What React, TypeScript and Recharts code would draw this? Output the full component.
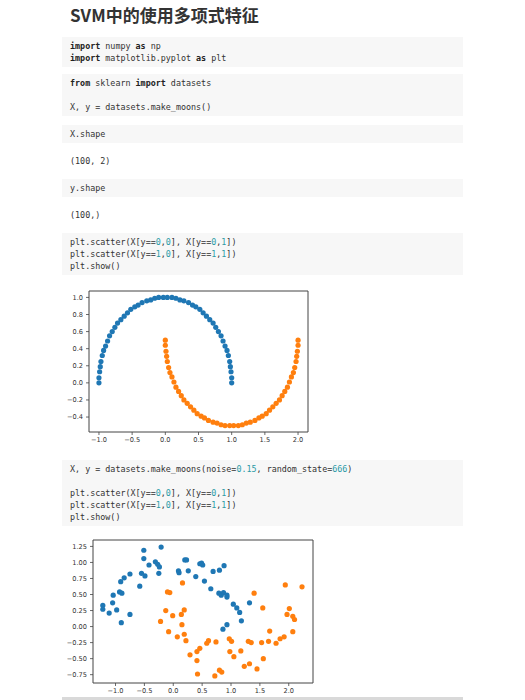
import React from 'react';
import { ScatterChart, Scatter, XAxis, YAxis, ReferenceArea } from 'recharts';

// ---- Chart 1: make_moons() (no noise) ----
const moon0X = [1.00, 1.00, 0.99, 0.98, 0.97, 0.95, 0.93, 0.90, 0.87, 0.84, 0.80, 0.76, 0.72, 0.67, 0.62, 0.57, 0.52, 0.46, 0.41, 0.35, 0.28, 0.22, 0.16, 0.10, 0.03, -0.03, -0.10, -0.16, -0.22, -0.28, -0.35, -0.41, -0.46, -0.52, -0.57, -0.62, -0.67, -0.72, -0.76, -0.80, -0.84, -0.87, -0.90, -0.93, -0.95, -0.97, -0.98, -0.99, -1.00, -1.00];
const moon0Y = [0.00, 0.06, 0.13, 0.19, 0.25, 0.32, 0.38, 0.43, 0.49, 0.55, 0.60, 0.65, 0.70, 0.74, 0.78, 0.82, 0.86, 0.89, 0.91, 0.94, 0.96, 0.97, 0.99, 1.00, 1.00, 1.00, 1.00, 0.99, 0.97, 0.96, 0.94, 0.91, 0.89, 0.86, 0.82, 0.78, 0.74, 0.70, 0.65, 0.60, 0.55, 0.49, 0.43, 0.38, 0.32, 0.25, 0.19, 0.13, 0.06, 0.00];
const moon1X = [0.00, 0.00, 0.01, 0.02, 0.03, 0.05, 0.07, 0.10, 0.13, 0.16, 0.20, 0.24, 0.28, 0.33, 0.38, 0.43, 0.48, 0.54, 0.59, 0.65, 0.72, 0.78, 0.84, 0.90, 0.97, 1.03, 1.10, 1.16, 1.22, 1.28, 1.35, 1.41, 1.46, 1.52, 1.57, 1.62, 1.67, 1.72, 1.76, 1.80, 1.84, 1.87, 1.90, 1.93, 1.95, 1.97, 1.98, 1.99, 2.00, 2.00];
const moon1Y = [0.50, 0.44, 0.37, 0.31, 0.25, 0.18, 0.12, 0.07, 0.01, -0.05, -0.10, -0.15, -0.20, -0.24, -0.28, -0.32, -0.36, -0.39, -0.41, -0.44, -0.46, -0.47, -0.49, -0.50, -0.50, -0.50, -0.50, -0.49, -0.47, -0.46, -0.44, -0.41, -0.39, -0.36, -0.32, -0.28, -0.24, -0.20, -0.15, -0.10, -0.05, 0.01, 0.07, 0.12, 0.18, 0.25, 0.31, 0.37, 0.44, 0.50];

// ---- Chart 2: make_moons(noise=0.15, random_state=666) ----
const noisy0X = [-1.22, -1.22, -1.11, -1.05, -1.04, -0.98, -0.93, -0.89, -0.90, -0.91, -0.85, -0.75, -0.75, -0.58, -0.55, -0.49, -0.51, -0.51, -0.42, -0.31, -0.27, -0.24, -0.25, -0.21, 0.09, 0.10, 0.20, 0.23, 0.26, 0.39, 0.46, 0.49, 0.51, 0.54, 0.65, 0.69, 0.80, 0.88, 0.79, 0.83, 0.87, 0.93, 0.93, 1.04, 1.10, 1.15, 1.18, 1.32, 0.93, 0.86];
const noisy0Y = [0.33, 0.27, 0.21, 0.37, 0.49, 0.26, 0.54, 0.52, 0.06, 0.70, 0.76, 0.82, 0.19, 0.63, 0.83, 0.79, 1.19, 1.06, 0.96, 1.01, 0.97, 0.93, 0.83, 1.24, 0.87, 0.84, 1.04, 1.04, 0.87, 0.78, 0.98, 0.99, 0.96, 0.71, 0.59, 0.86, 0.88, 0.95, 0.52, 0.49, 0.53, 0.46, 0.49, 0.35, 0.29, 0.22, 0.09, 0.37, 0.03, -0.04];
const noisy1X = [-0.22, -0.13, -0.08, -0.10, -0.06, -0.01, 0.07, 0.16, 0.14, 0.19, 0.15, 0.19, 0.22, 0.29, 0.41, 0.46, 0.41, 0.42, 0.58, 0.61, 0.74, 0.72, 0.80, 0.84, 0.97, 1.01, 0.98, 1.05, 1.17, 1.23, 1.30, 1.35, 1.32, 1.40, 1.45, 1.53, 1.55, 1.56, 1.65, 1.67, 1.78, 1.85, 1.92, 1.94, 1.97, 2.01, 2.07, 2.10, 2.07, 2.23];
const noisy1Y = [0.08, 0.25, -0.08, 0.54, 0.53, 0.17, -0.16, 0.68, 0.19, 0.26, 0.03, -0.12, -0.22, -0.44, -0.39, -0.34, -0.53, -0.74, -0.26, -0.22, -0.24, -0.77, -0.68, -0.71, -0.19, -0.23, -0.39, -0.47, -0.38, -0.62, -0.23, -0.25, -0.58, 0.52, -0.66, -0.25, 0.29, -0.50, -0.23, -0.07, -0.26, -0.19, -0.16, 0.65, 0.19, 0.28, 0.16, 0.11, -0.08, 0.62];

// ---- Ticks ----
const chart1XTicks = [-1.0, -0.5, 0.0, 0.5, 1.0, 1.5, 2.0];
const chart1YTicks = [-0.4, -0.2, 0.0, 0.2, 0.4, 0.6, 0.8, 1.0];
const chart2XTicks = [-1.0, -0.5, 0.0, 0.5, 1.0, 1.5, 2.0];
const chart2YTicks = [-0.75, -0.5, -0.25, 0.0, 0.25, 0.5, 0.75, 1.0, 1.25];

// ---- Texts ----
const titleText = 'SVM中的使用多项式特征';
const codeBlock1 = ['import numpy as np', 'import matplotlib.pyplot as plt'];
const codeBlock2 = ['from sklearn import datasets', '', 'X, y = datasets.make_moons()'];
const codeBlock3 = ['X.shape'];
const output3 = '(100, 2)';
const codeBlock4 = ['y.shape'];
const output4 = '(100,)';
const codeBlock5 = ['plt.scatter(X[y==0,0], X[y==0,1])', 'plt.scatter(X[y==1,0], X[y==1,1])', 'plt.show()'];
const codeBlock6 = ['X, y = datasets.make_moons(noise=0.15, random_state=666)', '', 'plt.scatter(X[y==0,0], X[y==0,1])', 'plt.scatter(X[y==1,0], X[y==1,1])', 'plt.show()'];

const BLUE = '#1f77b4';
const ORANGE = '#ff7f0e';
const AXIS = '#444';
const MONO = '"DejaVu Sans Mono", "Liberation Mono", monospace';
const LINE_H = 12;

const zip = (xs: number[], ys: number[]) => xs.map((x, i) => ({ x, y: ys[i] }));

const fmt = (d: number) => (v: number) => {
  const s = Math.abs(v).toFixed(d);
  return (v < -1e-9 ? '\u2212' : '') + s;
};

const dot = (color: string) => (props: any) => (
  <circle cx={props.cx} cy={props.cy} r={2.6} fill={color} />
);

function CodeLine({ text }: { text: string }) {
  const parts = text.split(/(\b(?:import|from|as)\b|\b\d+(?:\.\d+)?\b)/);
  return (
    <div style={{ height: LINE_H, lineHeight: LINE_H + 'px', whiteSpace: 'pre' }}>
      {parts.map((p, i) => {
        if (/^(import|from|as)$/.test(p)) return <span key={i} style={{ fontWeight: 'bold', color: '#222' }}>{p}</span>;
        if (/^\d+(\.\d+)?$/.test(p)) return <span key={i} style={{ color: '#2a9aa6' }}>{p}</span>;
        return <span key={i}>{p}</span>;
      })}
      {text === '' ? ' ' : null}
    </div>
  );
}

function CodeBlock({ top, lines }: { top: number; lines: string[] }) {
  return (
    <div
      style={{
        position: 'absolute',
        left: 62,
        top,
        width: 401,
        height: lines.length * LINE_H + 6,
        background: '#f7f7f7',
        boxSizing: 'border-box',
        padding: '3px 0 3px 8px',
        fontFamily: MONO,
        fontSize: 8.4,
        color: '#333',
      }}
    >
      {lines.map((l, i) => (
        <CodeLine key={i} text={l} />
      ))}
    </div>
  );
}

function OutputLine({ center, text }: { center: number; text: string }) {
  return (
    <div
      style={{
        position: 'absolute',
        left: 70,
        top: center - LINE_H / 2,
        height: LINE_H,
        lineHeight: LINE_H + 'px',
        fontFamily: MONO,
        fontSize: 8.4,
        color: '#333',
        whiteSpace: 'pre',
      }}
    >
      {text}
    </div>
  );
}

const tickStyle = { fontSize: 6.6, fill: '#333', fontFamily: '"DejaVu Sans", sans-serif' };

function MoonChart(props: {
  left: number;
  top: number;
  width: number;
  height: number;
  yAxisWidth: number;
  xAxisHeight: number;
  marginTop: number;
  marginRight: number;
  xDomain: [number, number];
  yDomain: [number, number];
  xTicks: number[];
  yTicks: number[];
  yDigits: number;
  data0: { x: number; y: number }[];
  data1: { x: number; y: number }[];
}) {
  const p = props;
  return (
    <div style={{ position: 'absolute', left: p.left, top: p.top, width: p.width, height: p.height }}>
      <ScatterChart
        width={p.width}
        height={p.height}
        margin={{ top: p.marginTop, right: p.marginRight, left: 0, bottom: 0 }}
      >
        <XAxis
          type="number"
          dataKey="x"
          domain={p.xDomain}
          ticks={p.xTicks}
          allowDataOverflow
          height={p.xAxisHeight}
          tickSize={3}
          tickMargin={2}
          axisLine={false}
          tickLine={{ stroke: AXIS, strokeWidth: 0.8 }}
          tick={tickStyle}
          tickFormatter={fmt(1)}
          interval={0}
        />
        <YAxis
          type="number"
          dataKey="y"
          domain={p.yDomain}
          ticks={p.yTicks}
          allowDataOverflow
          width={p.yAxisWidth}
          tickSize={3}
          tickMargin={3}
          axisLine={false}
          tickLine={{ stroke: AXIS, strokeWidth: 0.8 }}
          tick={tickStyle}
          tickFormatter={fmt(p.yDigits)}
          interval={0}
        />
        <Scatter data={p.data0} fill={BLUE} shape={dot(BLUE)} isAnimationActive={false} />
        <Scatter data={p.data1} fill={ORANGE} shape={dot(ORANGE)} isAnimationActive={false} />
        <ReferenceArea
          x1={p.xDomain[0]}
          x2={p.xDomain[1]}
          y1={p.yDomain[0]}
          y2={p.yDomain[1]}
          fill="none"
          fillOpacity={0}
          stroke={AXIS}
          strokeWidth={1}
          ifOverflow="visible"
        />
      </ScatterChart>
    </div>
  );
}

export default function App() {
  return (
    <div
      style={{
        position: 'absolute',
        left: 0,
        top: 0,
        width: 525,
        height: 700,
        background: '#fff',
        overflow: 'hidden',
      }}
    >
      <div
        style={{
          position: 'absolute',
          left: 70,
          top: 3,
          height: 24,
          lineHeight: '24px',
          fontSize: 17,
          fontWeight: 'bold',
          color: '#333',
          fontFamily: '"Noto Sans CJK SC", "Noto Sans", sans-serif',
          whiteSpace: 'nowrap',
        }}
      >
        {titleText}
      </div>

      <CodeBlock top={37} lines={codeBlock1} />
      <CodeBlock top={74} lines={codeBlock2} />
      <CodeBlock top={125} lines={codeBlock3} />
      <OutputLine center={161} text={output3} />
      <CodeBlock top={179} lines={codeBlock4} />
      <OutputLine center={215} text={output4} />
      <CodeBlock top={233} lines={codeBlock5} />

      <MoonChart
        left={40}
        top={285}
        width={280}
        height={170}
        yAxisWidth={49}
        xAxisHeight={23}
        marginTop={6}
        marginRight={12}
        xDomain={[-1.15, 2.15]}
        yDomain={[-0.575, 1.075]}
        xTicks={chart1XTicks}
        yTicks={chart1YTicks}
        yDigits={1}
        data0={zip(moon0X, moon0Y)}
        data1={zip(moon1X, moon1Y)}
      />

      <CodeBlock top={460} lines={codeBlock6} />

      <MoonChart
        left={40}
        top={534}
        width={285}
        height={166}
        yAxisWidth={53}
        xAxisHeight={17}
        marginTop={6}
        marginRight={12}
        xDomain={[-1.39, 2.42]}
        yDomain={[-0.88, 1.35]}
        xTicks={chart2XTicks}
        yTicks={chart2YTicks}
        yDigits={2}
        data0={zip(noisy0X, noisy0Y)}
        data1={zip(noisy1X, noisy1Y)}
      />

      <div
        style={{
          position: 'absolute',
          left: 62,
          top: 697,
          width: 401,
          height: 3,
          background: '#d9d9d9',
        }}
      />
    </div>
  );
}
